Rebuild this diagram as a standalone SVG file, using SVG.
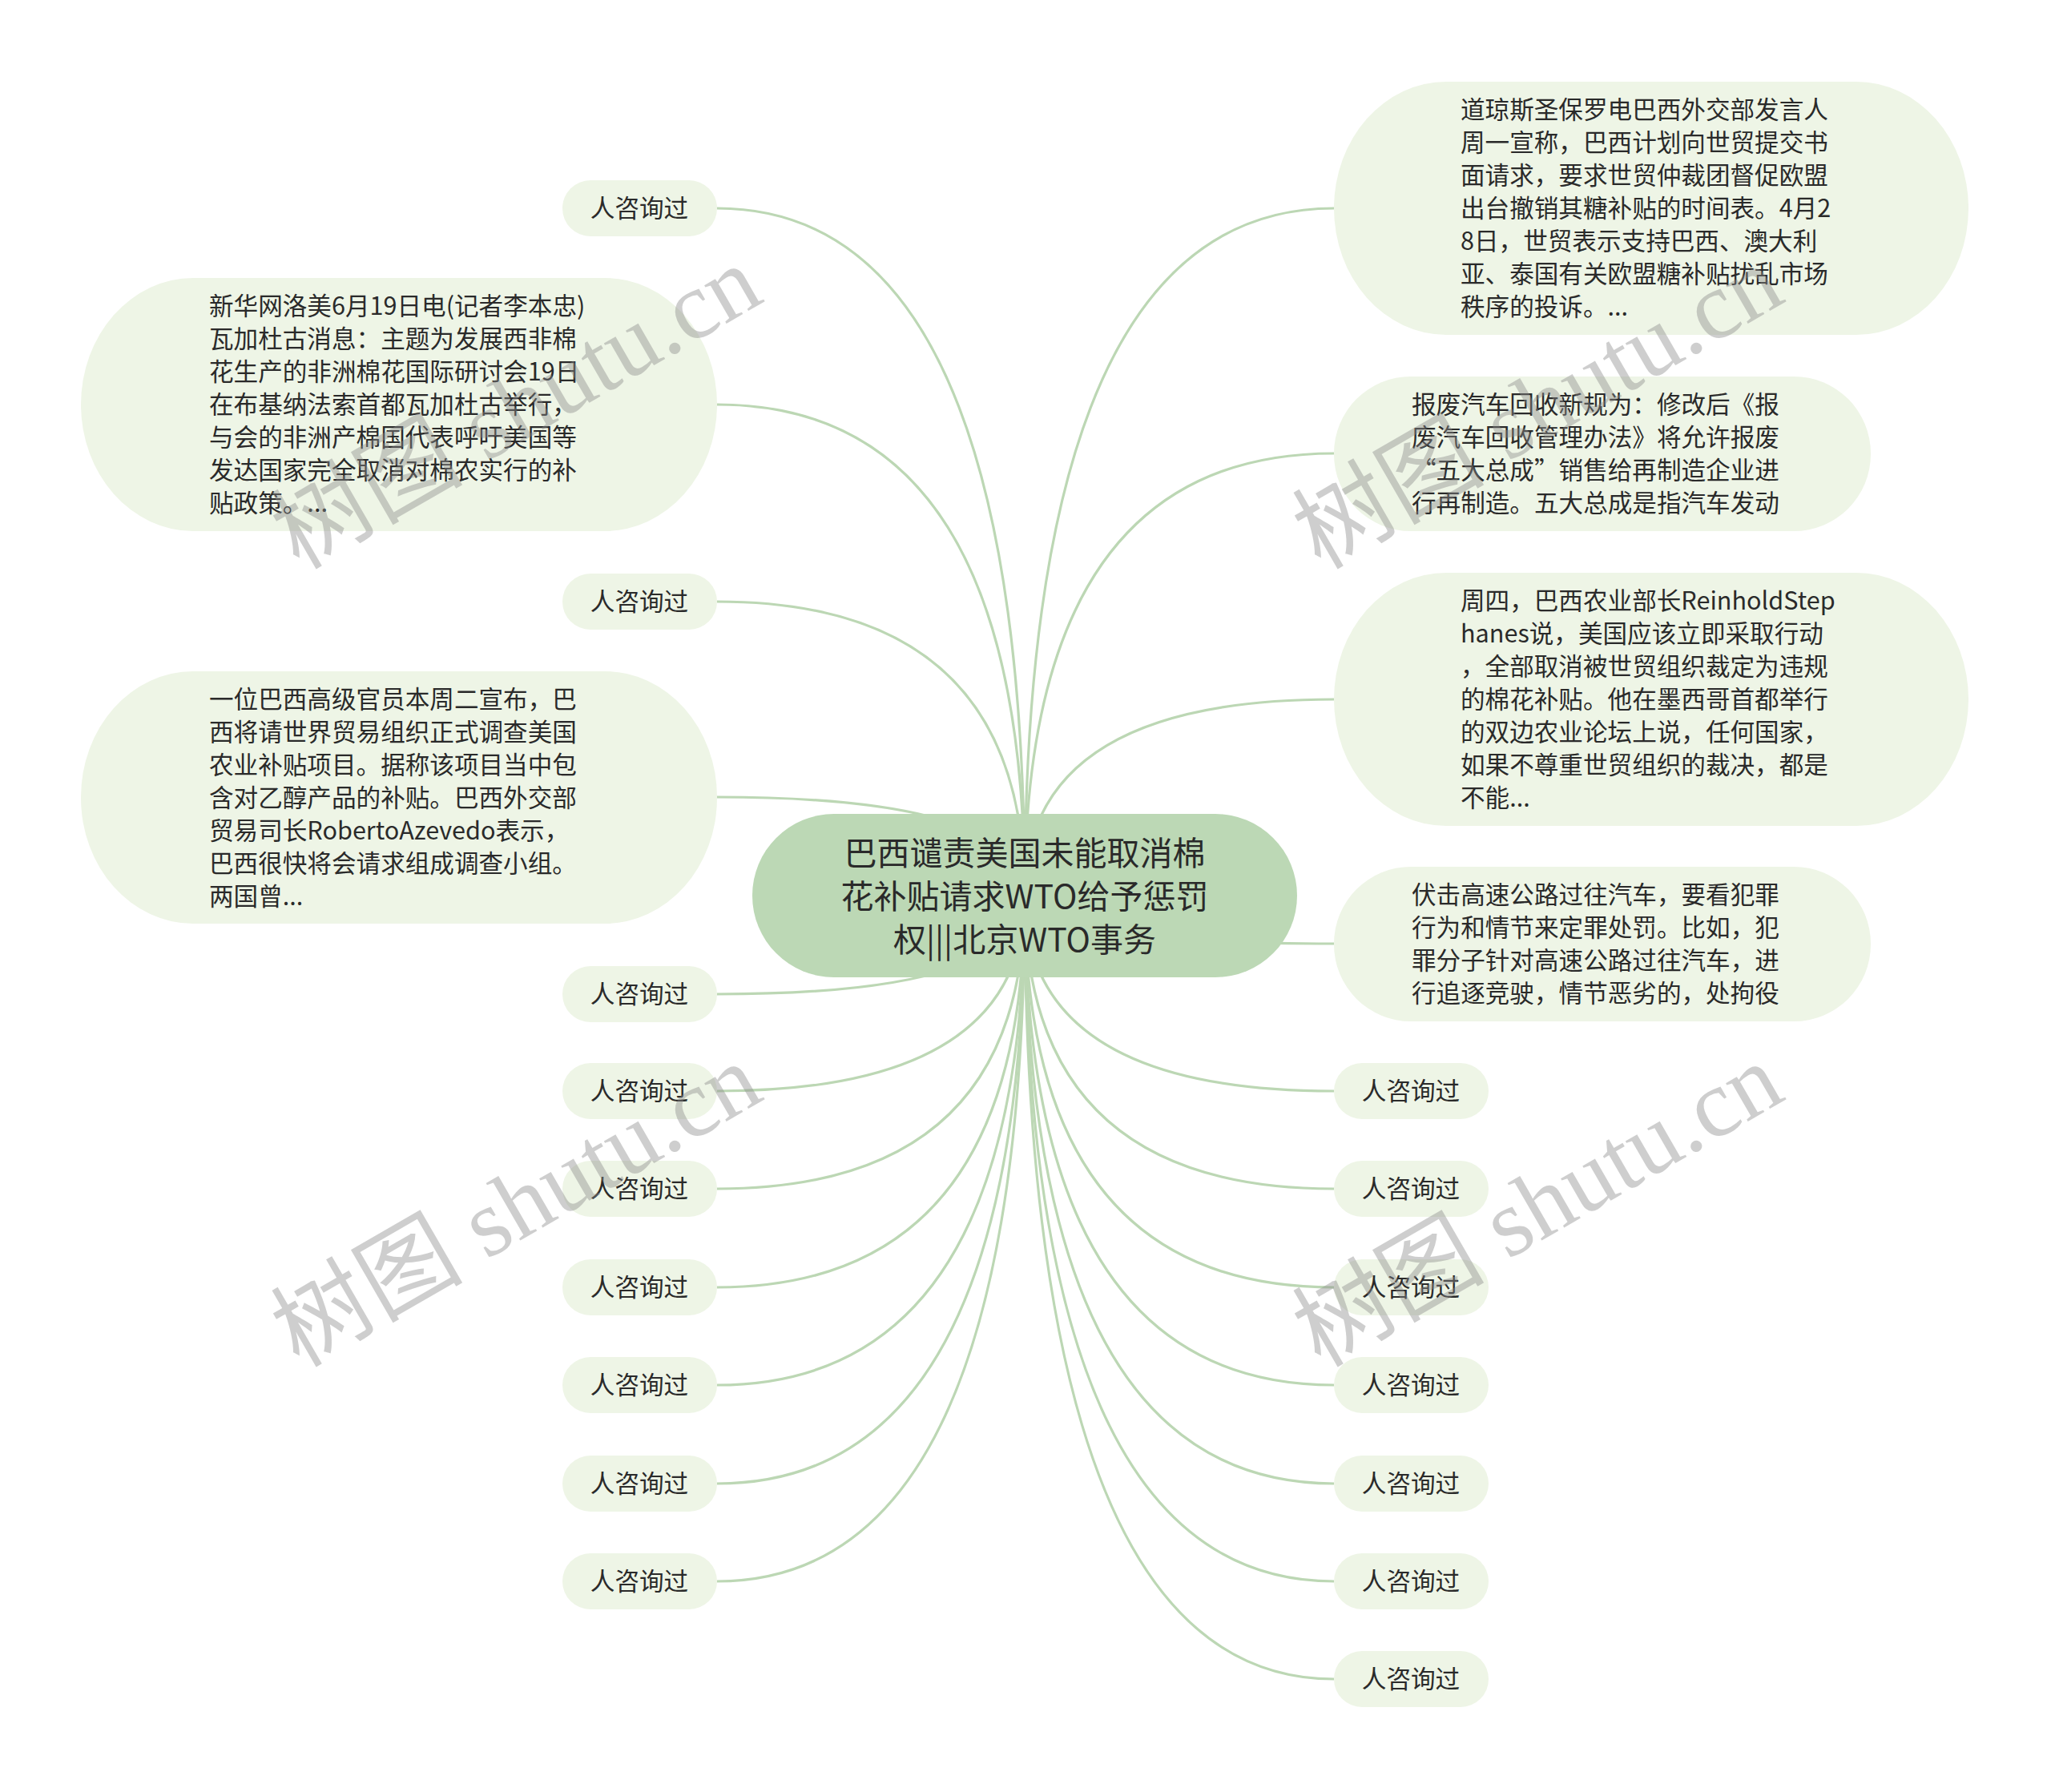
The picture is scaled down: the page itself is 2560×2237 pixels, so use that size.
<svg xmlns="http://www.w3.org/2000/svg" width="2560" height="2237" viewBox="0 0 2560 2237">
<style>
.bg{fill:#ffffff}
.ln{fill:none;stroke:#bcd7b4;stroke-width:3.2}
.nd{fill:#eef5e6}
.ct{fill:#bcd8b5}
.t{font-family:"Noto Sans CJK SC","Liberation Sans",sans-serif;font-size:30.6px;fill:#2a2a2a}
.tc{font-family:"Noto Sans CJK SC","Liberation Sans",sans-serif;font-size:41px;fill:#2a2a2a;text-anchor:middle}
.m{text-anchor:middle}
.wm{font-family:"Liberation Serif","Noto Sans CJK SC",serif;font-size:120px;fill:#8a8a8a;fill-opacity:0.42}
</style>
<rect class="bg" x="0" y="0" width="2560" height="2237"/>
<g id="connectors">
<path class="ln" d="M1279 1118 Q1279 260 895 260"/>
<path class="ln" d="M1279 1118 Q1279 505 895 505"/>
<path class="ln" d="M1279 1118 Q1279 751 895 751"/>
<path class="ln" d="M1279 1118 Q1279 995 895 995"/>
<path class="ln" d="M1279 1118 Q1279 1241 895 1241"/>
<path class="ln" d="M1279 1118 Q1279 1362 895 1362"/>
<path class="ln" d="M1279 1118 Q1279 1484 895 1484"/>
<path class="ln" d="M1279 1118 Q1279 1607 895 1607"/>
<path class="ln" d="M1279 1118 Q1279 1729 895 1729"/>
<path class="ln" d="M1279 1118 Q1279 1852 895 1852"/>
<path class="ln" d="M1279 1118 Q1279 1974 895 1974"/>
<path class="ln" d="M1279 1118 Q1279 260 1665 260"/>
<path class="ln" d="M1279 1118 Q1279 566 1665 566"/>
<path class="ln" d="M1279 1118 Q1279 873 1665 873"/>
<path class="ln" d="M1279 1118 Q1279 1178 1665 1178"/>
<path class="ln" d="M1279 1118 Q1279 1362 1665 1362"/>
<path class="ln" d="M1279 1118 Q1279 1484 1665 1484"/>
<path class="ln" d="M1279 1118 Q1279 1607 1665 1607"/>
<path class="ln" d="M1279 1118 Q1279 1729 1665 1729"/>
<path class="ln" d="M1279 1118 Q1279 1852 1665 1852"/>
<path class="ln" d="M1279 1118 Q1279 1974 1665 1974"/>
<path class="ln" d="M1279 1118 Q1279 2096 1665 2096"/>
</g>
<g id="center">
<rect class="ct" x="939" y="1016" width="680" height="204" rx="102" ry="102"/>
<text class="tc" x="1279" y="1080">巴西谴责美国未能取消棉</text>
<text class="tc" x="1279" y="1134">花补贴请求WTO给予惩罚</text>
<text class="tc" x="1279" y="1188">权|||北京WTO事务</text>
</g>
<g id="l1"><rect class="nd" x="702" y="225" width="193" height="70" rx="35"/><text class="t m" x="798" y="271">人咨询过</text></g>
<g id="nodeA">
<rect class="nd" x="101" y="347" width="794" height="316" rx="140" ry="158"/>
<text class="t" x="261" y="393">新华网洛美6月19日电(记者李本忠)</text>
<text class="t" x="261" y="434">瓦加杜古消息：主题为发展西非棉</text>
<text class="t" x="261" y="475">花生产的非洲棉花国际研讨会19日</text>
<text class="t" x="261" y="516">在布基纳法索首都瓦加杜古举行，</text>
<text class="t" x="261" y="557">与会的非洲产棉国代表呼吁美国等</text>
<text class="t" x="261" y="598">发达国家完全取消对棉农实行的补</text>
<text class="t" x="261" y="639">贴政策。...</text>
</g>
<g id="l2"><rect class="nd" x="702" y="716" width="193" height="70" rx="35"/><text class="t m" x="798" y="762">人咨询过</text></g>
<g id="nodeB">
<rect class="nd" x="101" y="838" width="794" height="315" rx="140" ry="157"/>
<text class="t" x="261" y="884">一位巴西高级官员本周二宣布，巴</text>
<text class="t" x="261" y="925">西将请世界贸易组织正式调查美国</text>
<text class="t" x="261" y="966">农业补贴项目。据称该项目当中包</text>
<text class="t" x="261" y="1007">含对乙醇产品的补贴。巴西外交部</text>
<text class="t" x="261" y="1048">贸易司长RobertoAzevedo表示，</text>
<text class="t" x="261" y="1089">巴西很快将会请求组成调查小组。</text>
<text class="t" x="261" y="1130">两国曾...</text>
</g>
<g id="l3"><rect class="nd" x="702" y="1206" width="193" height="70" rx="35"/><text class="t m" x="798" y="1252">人咨询过</text></g>
<g id="l4"><rect class="nd" x="702" y="1327" width="193" height="70" rx="35"/><text class="t m" x="798" y="1373">人咨询过</text></g>
<g id="l5"><rect class="nd" x="702" y="1449" width="193" height="70" rx="35"/><text class="t m" x="798" y="1495">人咨询过</text></g>
<g id="l6"><rect class="nd" x="702" y="1572" width="193" height="70" rx="35"/><text class="t m" x="798" y="1618">人咨询过</text></g>
<g id="l7"><rect class="nd" x="702" y="1694" width="193" height="70" rx="35"/><text class="t m" x="798" y="1740">人咨询过</text></g>
<g id="l8"><rect class="nd" x="702" y="1817" width="193" height="70" rx="35"/><text class="t m" x="798" y="1863">人咨询过</text></g>
<g id="l9"><rect class="nd" x="702" y="1939" width="193" height="70" rx="35"/><text class="t m" x="798" y="1985">人咨询过</text></g>
<g id="nodeC">
<rect class="nd" x="1665" y="102" width="792" height="316" rx="140" ry="158"/>
<text class="t" x="1823" y="148">道琼斯圣保罗电巴西外交部发言人</text>
<text class="t" x="1823" y="189">周一宣称，巴西计划向世贸提交书</text>
<text class="t" x="1823" y="230">面请求，要求世贸仲裁团督促欧盟</text>
<text class="t" x="1823" y="271">出台撤销其糖补贴的时间表。4月2</text>
<text class="t" x="1823" y="312">8日，世贸表示支持巴西、澳大利</text>
<text class="t" x="1823" y="353">亚、泰国有关欧盟糖补贴扰乱市场</text>
<text class="t" x="1823" y="394">秩序的投诉。...</text>
</g>
<g id="nodeD">
<rect class="nd" x="1665" y="470" width="670" height="193" rx="96" ry="96"/>
<text class="t" x="1762" y="516">报废汽车回收新规为：修改后《报</text>
<text class="t" x="1762" y="557">废汽车回收管理办法》将允许报废</text>
<text class="t" x="1762" y="598">“五大总成”销售给再制造企业进</text>
<text class="t" x="1762" y="639">行再制造。五大总成是指汽车发动</text>
</g>
<g id="nodeE">
<rect class="nd" x="1665" y="715" width="792" height="316" rx="140" ry="158"/>
<text class="t" x="1823" y="761">周四，巴西农业部长ReinholdStep</text>
<text class="t" x="1823" y="802">hanes说，美国应该立即采取行动</text>
<text class="t" x="1823" y="843">，全部取消被世贸组织裁定为违规</text>
<text class="t" x="1823" y="884">的棉花补贴。他在墨西哥首都举行</text>
<text class="t" x="1823" y="925">的双边农业论坛上说，任何国家，</text>
<text class="t" x="1823" y="966">如果不尊重世贸组织的裁决，都是</text>
<text class="t" x="1823" y="1007">不能...</text>
</g>
<g id="nodeF">
<rect class="nd" x="1665" y="1082" width="670" height="193" rx="96" ry="96"/>
<text class="t" x="1762" y="1128">伏击高速公路过往汽车，要看犯罪</text>
<text class="t" x="1762" y="1169">行为和情节来定罪处罚。比如，犯</text>
<text class="t" x="1762" y="1210">罪分子针对高速公路过往汽车，进</text>
<text class="t" x="1762" y="1251">行追逐竞驶，情节恶劣的，处拘役</text>
</g>
<g id="r1"><rect class="nd" x="1665" y="1327" width="193" height="70" rx="35"/><text class="t m" x="1761" y="1373">人咨询过</text></g>
<g id="r2"><rect class="nd" x="1665" y="1449" width="193" height="70" rx="35"/><text class="t m" x="1761" y="1495">人咨询过</text></g>
<g id="r3"><rect class="nd" x="1665" y="1572" width="193" height="70" rx="35"/><text class="t m" x="1761" y="1618">人咨询过</text></g>
<g id="r4"><rect class="nd" x="1665" y="1694" width="193" height="70" rx="35"/><text class="t m" x="1761" y="1740">人咨询过</text></g>
<g id="r5"><rect class="nd" x="1665" y="1817" width="193" height="70" rx="35"/><text class="t m" x="1761" y="1863">人咨询过</text></g>
<g id="r6"><rect class="nd" x="1665" y="1939" width="193" height="70" rx="35"/><text class="t m" x="1761" y="1985">人咨询过</text></g>
<g id="r7"><rect class="nd" x="1665" y="2061" width="193" height="70" rx="35"/><text class="t m" x="1761" y="2107">人咨询过</text></g>
<g id="watermarks">
<text class="wm" x="373" y="712" transform="rotate(-30 373 712)">树图 shutu.cn</text>
<text class="wm" x="1648" y="712" transform="rotate(-30 1648 712)">树图 shutu.cn</text>
<text class="wm" x="373" y="1708" transform="rotate(-30 373 1708)">树图 shutu.cn</text>
<text class="wm" x="1648" y="1708" transform="rotate(-30 1648 1708)">树图 shutu.cn</text>
</g>
</svg>
